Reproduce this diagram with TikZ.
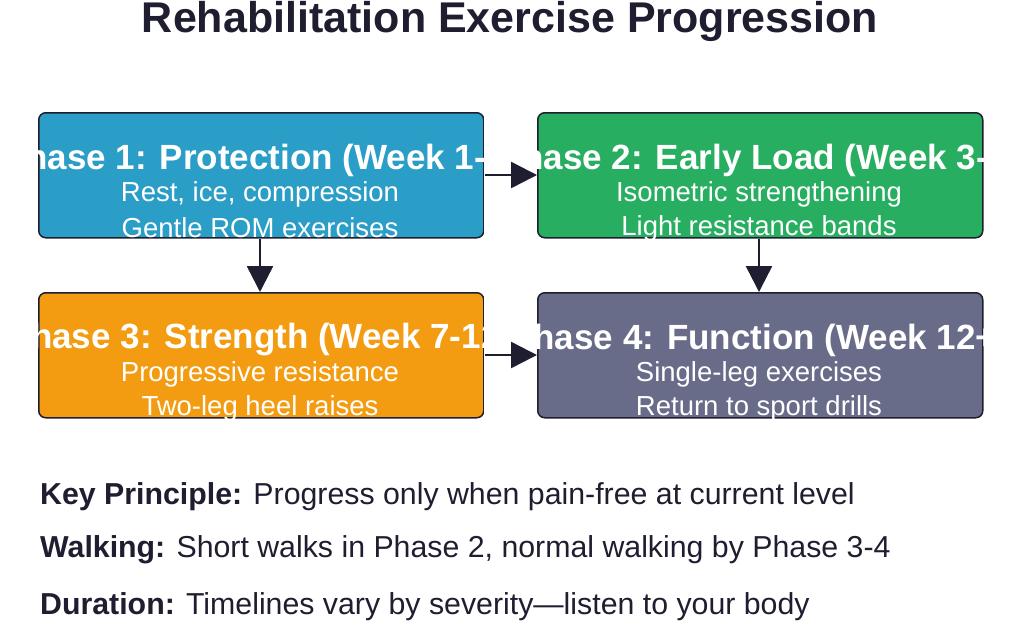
\documentclass[tikz,border=0pt]{standalone}
\usepackage{fontspec}
\setmainfont{Liberation Sans}
\usetikzlibrary{arrows.meta}
\definecolor{cblue}{HTML}{2A9EC6}
\definecolor{cgreen}{HTML}{27AE60}
\definecolor{corange}{HTML}{F39C12}
\definecolor{cgray}{HTML}{696C89}
\definecolor{cdark}{HTML}{1E1E30}
\begin{document}
\begin{tikzpicture}[x=1pt,y=-1pt,
  phase/.style={draw=cdark,line width=1.5pt,rounded corners=7pt,minimum width=445pt,minimum height=125pt,anchor=north west,inner sep=0pt},
  head/.style={text=white,font=\bfseries\fontsize{35}{40}\selectfont},
  body/.style={text=white,font=\fontsize{27.5}{32}\selectfont},
  conn/.style={-{Triangle[length=26pt,width=26pt]},line width=2.5pt,draw=cdark},
  note/.style={anchor=west,font=\fontsize{30.3}{36}\selectfont,text=cdark,inner sep=0pt}]
\useasboundingbox (0,0) rectangle (1024,625);
\node[font=\bfseries\fontsize{43}{50}\selectfont,text=cdark] (title) at (510,21) {Rehabilitation Exercise Progression};
\node[phase,fill=cblue] (b1) at (38,112) {};
\node[phase,fill=cgreen] (b2) at (537,112) {};
\node[phase,fill=corange] (b3) at (38,292) {};
\node[phase,fill=cgray] (b4) at (537,292) {};
\node[head] (h1) at (260,160) {Phase 1: Protection (Week 1-2)};
\node[body] (l1a) at (260,194) {Rest, ice, compression};
\node[body] (l1b) at (260,228) {Gentle ROM exercises};
\node[head] (h2) at (759,160) {Phase 2: Early Load (Week 3-6)};
\node[body] (l2a) at (759,194) {Isometric strengthening};
\node[body] (l2b) at (759,228) {Light resistance bands};
\node[head] (h3) at (260,340) {Phase 3: Strength (Week 7-12)};
\node[body] (l3a) at (260,374) {Progressive resistance};
\node[body] (l3b) at (260,408) {Two-leg heel raises};
\node[head] (h4) at (759,340) {Phase 4: Function (Week 12+)};
\node[body] (l4a) at (759,374) {Single-leg exercises};
\node[body] (l4b) at (759,408) {Return to sport drills};
% mask overflow outside boxes
\fill[white] (0,100) rectangle (37,430);
\fill[white] (984,100) rectangle (1024,430);
\fill[white] (484,100) rectangle (536,430);
\fill[white] (0,238.5) rectangle (1024,291);
\fill[white] (0,418.5) rectangle (1024,440);
\draw[conn] (b1.east |- 0,175) -- (b2.west |- 0,175);
\draw[conn] (b3.east |- 0,355) -- (b4.west |- 0,355);
\draw[conn] (b1.south -| 260,0) -- (b3.north -| 260,0);
\draw[conn] (b2.south -| 759,0) -- (b4.north -| 759,0);
\node[note] (n1) at (40,497) {\textbf{Key Principle:} Progress only when pain-free at current level};
\node[note] (n2) at (40,550) {\textbf{Walking:} Short walks in Phase 2, normal walking by Phase 3-4};
\node[note] (n3) at (40,607) {\textbf{Duration:} Timelines vary by severity—listen to your body};
\end{tikzpicture}
\end{document}
